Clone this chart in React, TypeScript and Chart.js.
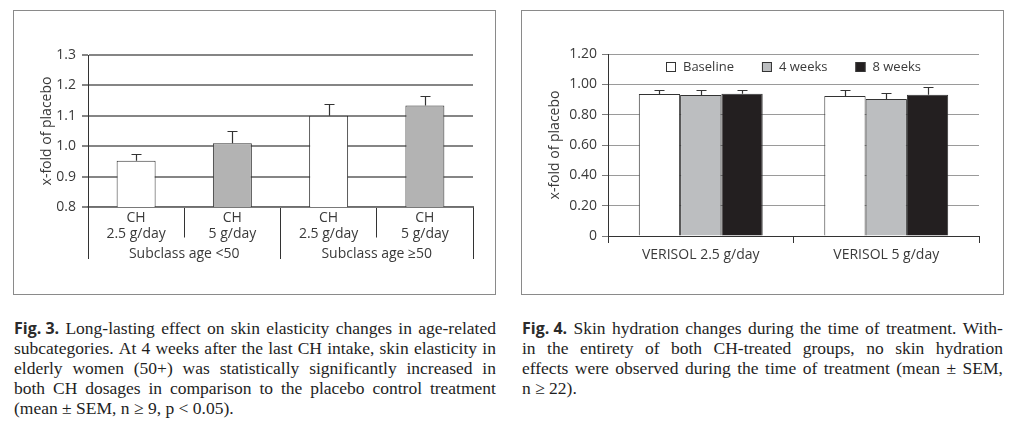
import React, { useEffect, useRef } from 'react';
import { Chart, registerables } from 'chart.js';

Chart.register(...registerables);

// ---------- Fig. 3 data ----------
const fig3Categories = [
  ['CH', '2.5 g/day'],
  ['CH', '5 g/day'],
  ['CH', '2.5 g/day'],
  ['CH', '5 g/day'],
];
const fig3Groups = ['Subclass age <50', 'Subclass age ≥50'];
const fig3Means = [0.952, 1.01, 1.1, 1.134];
const fig3Sem = [0.021, 0.041, 0.039, 0.031];
const fig3YTicks = [0.8, 0.9, 1.0, 1.1, 1.2, 1.3];
const fig3YTickLabels = ['0.8', '0.9', '1.0', '1.1', '1.2', '1.3'];
const fig3AxisTitle = 'x-fold of placebo';

// ---------- Fig. 4 data ----------
const fig4Categories = ['VERISOL 2.5 g/day', 'VERISOL 5 g/day'];
const fig4SeriesNames = ['Baseline', '4 weeks', '8 weeks'];
const fig4Baseline = [0.936, 0.923];
const fig4Week4 = [0.929, 0.903];
const fig4Week8 = [0.938, 0.931];
const fig4BaselineSem = [0.028, 0.037];
const fig4Week4Sem = [0.035, 0.039];
const fig4Week8Sem = [0.026, 0.05];
const fig4YTicks = [0, 0.2, 0.4, 0.6, 0.8, 1.0, 1.2];
const fig4YTickLabels = ['0', '0.20', '0.40', '0.60', '0.80', '1.00', '1.20'];
const fig4AxisTitle = 'x-fold of placebo';

// ---------- Captions ----------
const fig3CaptionLabel = 'Fig. 3.';
const fig3CaptionLines = [
  'Long-lasting effect on skin elasticity changes in age-related',
  'subcategories. At 4 weeks after the last CH intake, skin elasticity in',
  'elderly women (50+) was statistically significantly increased in',
  'both CH dosages in comparison to the placebo control treatment',
  '(mean ± SEM, n ≥ 9, p < 0.05).',
];
const fig4CaptionLabel = 'Fig. 4.';
const fig4CaptionLines = [
  'Skin hydration changes during the time of treatment. With-',
  'in the entirety of both CH-treated groups, no skin hydration',
  'effects were observed during the time of treatment (mean ± SEM,',
  'n ≥ 22).',
];

// ---------- Styles ----------
const SANS = "'Open Sans', 'Noto Sans', sans-serif";
const SERIF = "'Liberation Serif', 'Times New Roman', serif";
const TEXT = '#3a3a3a';
const DARK = '#333333';
const fig3Fills = ['#ffffff', '#b3b3b3', '#ffffff', '#b3b3b3'];
const fig4Fills = ['#ffffff', '#bcbec0', '#231f20'];

Chart.defaults.font.family = SANS;
Chart.defaults.font.size = 14;
Chart.defaults.color = TEXT;

const errorBarPlugin = {
  id: 'errorBars',
  afterDatasetsDraw(chart: any, _args: any, opts: any) {
    const ctx = chart.ctx;
    chart.data.datasets.forEach((ds: any, di: number) => {
      const errs = ds.errors;
      if (!errs) return;
      const meta = chart.getDatasetMeta(di);
      const yScale = chart.scales[meta.yAxisID];
      meta.data.forEach((bar: any, i: number) => {
        const top = Math.round(yScale.getPixelForValue(ds.data[i] + errs[i])) + 0.5;
        const x = Math.round(bar.x) + 0.5;
        ctx.save();
        ctx.strokeStyle = opts.color;
        ctx.lineWidth = opts.width;
        ctx.beginPath();
        ctx.moveTo(x, bar.y);
        ctx.lineTo(x, top);
        ctx.moveTo(x - opts.cap / 2, top);
        ctx.lineTo(x + opts.cap / 2, top);
        ctx.stroke();
        ctx.restore();
      });
    });
  },
};

const insideLegendPlugin = {
  id: 'insideLegend',
  afterDraw(chart: any, _args: any, opts: any) {
    const { ctx, chartArea } = chart;
    ctx.save();
    ctx.font = `${opts.size}px ${SANS}`;
    const items = chart.data.datasets.map((ds: any) => ({
      label: ds.label,
      fill: ds.backgroundColor,
      w: ctx.measureText(ds.label).width,
    }));
    const total =
      items.reduce((s: number, it: any) => s + opts.box + opts.gap + it.w, 0) +
      opts.spacing * (items.length - 1);
    let x = Math.round((chartArea.left + chartArea.right) / 2 - total / 2);
    const y = chartArea.top + opts.offsetY;
    items.forEach((it: any) => {
      const bt = Math.round(y - opts.box / 2);
      ctx.fillStyle = it.fill;
      ctx.fillRect(x, bt, opts.box, opts.box);
      ctx.strokeStyle = opts.border;
      ctx.lineWidth = 1;
      ctx.strokeRect(x + 0.5, bt + 0.5, opts.box - 1, opts.box - 1);
      ctx.fillStyle = opts.color;
      ctx.textBaseline = 'middle';
      ctx.textAlign = 'left';
      ctx.fillText(it.label, x + opts.box + opts.gap, y);
      x += opts.box + opts.gap + it.w + opts.spacing;
    });
    ctx.restore();
  },
};

function Fig3Chart() {
  const ref = useRef<HTMLCanvasElement>(null);
  useEffect(() => {
    const yMin = fig3YTicks[0];
    const chart = new Chart(ref.current as HTMLCanvasElement, {
      type: 'bar',
      data: {
        labels: fig3Categories as any,
        datasets: [
          {
            label: fig3AxisTitle,
            data: fig3Means,
            errors: fig3Sem,
            backgroundColor: fig3Fills,
            borderColor: DARK,
            borderWidth: 1,
            barPercentage: 0.405,
            categoryPercentage: 1,
          } as any,
        ],
      },
      options: {
        responsive: false,
        animation: false,
        events: [],
        layout: { padding: { top: 44, right: 22, left: 0, bottom: 87 } },
        plugins: {
          legend: { display: false },
          tooltip: { enabled: false },
          errorBars: { color: DARK, width: 1.2, cap: 10 },
        } as any,
        scales: {
          x: {
            type: 'category',
            position: { y: yMin },
            weight: 0,
            offset: true,
            grid: {
              offset: true,
              drawOnChartArea: false,
              drawTicks: true,
              tickLength: 30,
              color: DARK,
              tickColor: DARK,
              tickWidth: 1,
            },
            border: { display: true, color: '#6e6e6e', width: 1.5 },
            ticks: {
              padding: -27,
              maxRotation: 0,
              autoSkip: false,
              color: TEXT,
              font: { size: 14, lineHeight: '16px' as any },
            },
            afterFit: (s: any) => {
              s.height = 30;
            },
          },
          x2: {
            type: 'category',
            labels: fig3Groups,
            position: { y: yMin },
            weight: 1,
            offset: true,
            grid: {
              offset: true,
              drawOnChartArea: false,
              drawTicks: true,
              tickLength: 52,
              color: DARK,
              tickColor: DARK,
              tickWidth: 1,
            },
            border: { display: false },
            ticks: {
              padding: -13,
              maxRotation: 0,
              autoSkip: false,
              color: TEXT,
              font: { size: 14, lineHeight: '16px' as any },
            },
            afterFit: (s: any) => {
              s.height = 57;
            },
          },
          y: {
            min: fig3YTicks[0],
            max: fig3YTicks[fig3YTicks.length - 1],
            afterBuildTicks: (s: any) => {
              s.ticks = fig3YTicks.map((v) => ({ value: v }));
            },
            grid: {
              color: '#858585',
              lineWidth: 2,
              tickLength: 6,
              tickColor: '#858585',
            },
            border: { display: true, color: DARK, width: 1 },
            ticks: {
              padding: 6,
              color: TEXT,
              font: { size: 14 },
              callback: (_v: any, i: number) => fig3YTickLabels[i],
            },
            title: {
              display: true,
              text: fig3AxisTitle,
              color: TEXT,
              font: { size: 14, lineHeight: 1.2 },
              padding: { top: 25, bottom: 0 },
            },
            afterFit: (s: any) => {
              s.width = 74;
            },
          },
        },
      } as any,
      plugins: [errorBarPlugin],
    });
    return () => chart.destroy();
  }, []);
  return (
    <canvas
      ref={ref}
      width={481}
      height={283}
      style={{ position: 'absolute', left: 14, top: 11, width: 481, height: 283 }}
    />
  );
}

function Fig4Chart() {
  const ref = useRef<HTMLCanvasElement>(null);
  useEffect(() => {
    const seriesValues = [fig4Baseline, fig4Week4, fig4Week8];
    const seriesErrors = [fig4BaselineSem, fig4Week4Sem, fig4Week8Sem];
    const chart = new Chart(ref.current as HTMLCanvasElement, {
      type: 'bar',
      data: {
        labels: fig4Categories,
        datasets: fig4SeriesNames.map(
          (name, k) =>
            ({
              label: name,
              data: seriesValues[k],
              errors: seriesErrors[k],
              backgroundColor: fig4Fills[k],
              borderColor: DARK,
              borderWidth: 1,
              barPercentage: 1,
              categoryPercentage: 0.668,
            }) as any
        ),
      },
      options: {
        responsive: false,
        animation: false,
        events: [],
        layout: { padding: { top: 43, right: 23, left: 0, bottom: 0 } },
        plugins: {
          legend: { display: false },
          tooltip: { enabled: false },
          errorBars: { color: DARK, width: 1.2, cap: 10 },
          insideLegend: {
            size: 13,
            box: 10,
            gap: 7,
            spacing: 28,
            offsetY: 13,
            border: DARK,
            color: TEXT,
          },
        } as any,
        scales: {
          x: {
            type: 'category',
            offset: true,
            grid: {
              offset: true,
              drawOnChartArea: false,
              drawTicks: true,
              tickLength: 7,
              color: DARK,
              tickColor: DARK,
              tickWidth: 1,
            },
            border: { display: true, color: DARK, width: 1 },
            ticks: {
              padding: 4,
              maxRotation: 0,
              autoSkip: false,
              color: TEXT,
              font: { size: 14, lineHeight: '16px' as any },
            },
            afterFit: (s: any) => {
              s.height = 58;
            },
          },
          y: {
            min: fig4YTicks[0],
            max: fig4YTicks[fig4YTicks.length - 1],
            afterBuildTicks: (s: any) => {
              s.ticks = fig4YTicks.map((v) => ({ value: v }));
            },
            grid: {
              color: '#9a9a9a',
              lineWidth: 1,
              tickLength: 6,
              tickColor: '#7a7a7a',
            },
            border: { display: true, color: DARK, width: 1 },
            ticks: {
              padding: 5,
              color: TEXT,
              font: { size: 14 },
              callback: (_v: any, i: number) => fig4YTickLabels[i],
            },
            title: {
              display: true,
              text: fig4AxisTitle,
              color: TEXT,
              font: { size: 14, lineHeight: 1.2 },
              padding: { top: 25, bottom: 0 },
            },
            afterFit: (s: any) => {
              s.width = 86;
            },
          },
        },
      } as any,
      plugins: [errorBarPlugin, insideLegendPlugin],
    });
    return () => chart.destroy();
  }, []);
  return (
    <canvas
      ref={ref}
      width={480}
      height={283}
      style={{ position: 'absolute', left: 522, top: 11, width: 480, height: 283 }}
    />
  );
}

const labelStyle: React.CSSProperties = {
  fontFamily: SANS,
  fontWeight: 700,
  fontSize: 16,
  color: '#2b2b2b',
};

function Caption({
  label,
  lines,
  left,
  width,
}: {
  label: string;
  lines: string[];
  left: number;
  width: number;
}) {
  return (
    <div
      style={{
        position: 'absolute',
        left,
        top: 318,
        width,
        fontFamily: SERIF,
        fontSize: 17.5,
        lineHeight: '20px',
        color: '#1e1e1e',
      }}
    >
      {lines.map((line, li) => {
        const justify = li < lines.length - 1;
        const words = line.split(' ');
        if (!justify) {
          return (
            <div key={li} style={{ height: 20, whiteSpace: 'nowrap' }}>
              {li === 0 && <span style={labelStyle}>{label} </span>}
              {line}
            </div>
          );
        }
        return (
          <div
            key={li}
            style={{
              height: 20,
              display: 'flex',
              justifyContent: 'space-between',
              alignItems: 'baseline',
              whiteSpace: 'nowrap',
            }}
          >
            {li === 0 && <span style={labelStyle}>{label}</span>}
            {words.map((w, wi) => (
              <span key={wi}>{w}</span>
            ))}
          </div>
        );
      })}
    </div>
  );
}

export default function App() {
  return (
    <div
      style={{
        position: 'absolute',
        left: 0,
        top: 0,
        width: 1024,
        height: 433,
        background: '#ffffff',
        overflow: 'hidden',
      }}
    >
      <div
        style={{
          position: 'absolute',
          left: 13,
          top: 10,
          width: 483,
          height: 285,
          border: '1px solid #8a8a8a',
          boxSizing: 'border-box',
        }}
      />
      <div
        style={{
          position: 'absolute',
          left: 521,
          top: 10,
          width: 483,
          height: 285,
          border: '1px solid #8a8a8a',
          boxSizing: 'border-box',
        }}
      />
      <Fig3Chart />
      <Fig4Chart />
      <Caption label={fig3CaptionLabel} lines={fig3CaptionLines} left={14} width={482} />
      <Caption label={fig4CaptionLabel} lines={fig4CaptionLines} left={522} width={481} />
    </div>
  );
}
